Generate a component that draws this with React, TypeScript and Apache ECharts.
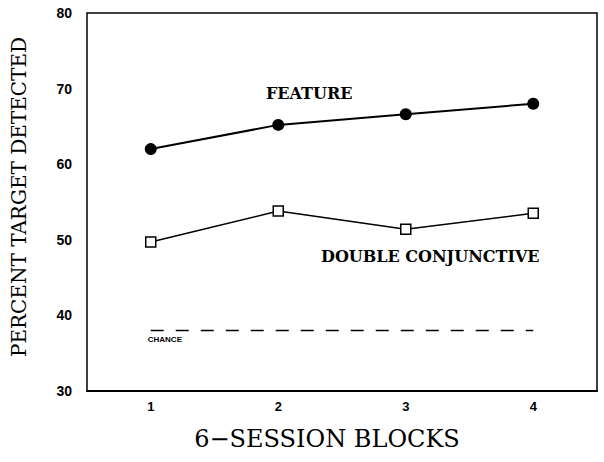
import React, { useEffect, useRef } from "react";
import * as echarts from "echarts";

const blocks = ["1", "2", "3", "4"];
const featureValues = [62.0, 65.2, 66.6, 68.0];
const doubleConjValues = [49.7, 53.8, 51.4, 53.5];
const chanceValues = [38, 38, 38, 38];
const yTicks = { min: 30, max: 80, interval: 10 };

export default function App() {
  const ref = useRef<HTMLDivElement>(null);
  useEffect(() => {
    const chart = echarts.init(ref.current!, null, { renderer: "svg" });
    const tickFont = {
      fontFamily: "Liberation Sans",
      fontWeight: "bold" as const,
      fontSize: 13,
      color: "#000",
    };
    chart.setOption({
      animation: false,
      backgroundColor: "#fff",
      grid: {
        left: 87,
        right: 7,
        top: 13,
        bottom: 71,
        show: true,
        borderColor: "#000",
        borderWidth: 1.5,
      },
      xAxis: {
        type: "category",
        data: blocks,
        boundaryGap: true,
        name: "6\u2212SESSION BLOCKS",
        nameLocation: "middle",
        nameGap: 36,
        nameTextStyle: {
          fontFamily: "DejaVu Serif",
          fontSize: 24,
          color: "#000",
          padding: [0, 30, 0, 0],
        },
        axisLine: { lineStyle: { color: "#000", width: 2 } },
        axisTick: { alignWithLabel: true, length: 4, lineStyle: { color: "#000", width: 1.5 } },
        axisLabel: { ...tickFont, margin: 9 },
        splitLine: { show: false },
      },
      yAxis: {
        type: "value",
        min: yTicks.min,
        max: yTicks.max,
        interval: yTicks.interval,
        name: "PERCENT TARGET DETECTED",
        nameLocation: "middle",
        nameGap: 58,
        nameTextStyle: {
          fontFamily: "DejaVu Serif",
          fontSize: 20,
          color: "#000",
          padding: [0, 0, 0, 10],
        },
        axisLine: { lineStyle: { color: "#000", width: 2 } },
        axisTick: { length: 4, lineStyle: { color: "#000", width: 1.5 } },
        axisLabel: { ...tickFont, fontSize: 14, margin: 15 },
        splitLine: { show: false },
      },
      series: [
        {
          name: "FEATURE",
          type: "line",
          data: featureValues,
          symbol: "circle",
          symbolSize: 12,
          itemStyle: { color: "#000" },
          lineStyle: { color: "#000", width: 2 },
        },
        {
          name: "DOUBLE CONJUNCTIVE",
          type: "line",
          data: doubleConjValues,
          symbol: "rect",
          symbolSize: 10,
          itemStyle: { color: "#fff", borderColor: "#000", borderWidth: 1.5 },
          lineStyle: { color: "#000", width: 1.5 },
        },
        {
          name: "CHANCE",
          type: "line",
          data: chanceValues.map((v, i) =>
            i === 0
              ? {
                  value: v,
                  label: {
                    show: true,
                    formatter: "CHANCE",
                    position: "bottom",
                    align: "left",
                    offset: [-3, 0],
                    distance: 5,
                    fontFamily: "Liberation Sans",
                    fontWeight: "bold",
                    fontSize: 8,
                    color: "#000",
                  },
                }
              : v
          ),
          symbol: "circle",
          symbolSize: 0,
          showSymbol: true,
          itemStyle: { color: "#000" },
          lineStyle: { color: "#000", width: 1.5, type: [13, 12] },
        },
      ],
      graphic: [
        {
          type: "text",
          left: 266,
          top: 85,
          style: {
            text: "FEATURE",
            font: "bold 16px 'DejaVu Serif'",
            fill: "#000",
          },
        },
        {
          type: "text",
          left: 321,
          top: 248,
          style: {
            text: "DOUBLE CONJUNCTIVE",
            font: "bold 16px 'DejaVu Serif'",
            fill: "#000",
          },
        },
      ],
    });
    return () => chart.dispose();
  }, []);
  return <div ref={ref} style={{ width: 604, height: 462, position: "absolute", left: 0, top: 0 }} />;
}
